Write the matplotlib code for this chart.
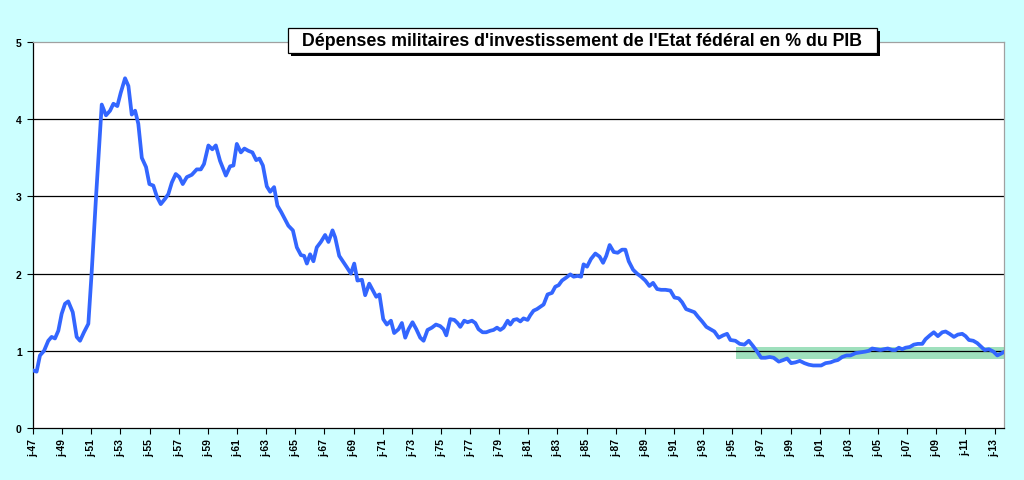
import numpy as np
import matplotlib.pyplot as plt
from matplotlib.patches import Rectangle

# (decimal year, % of GDP)
years = [
    1947.02, 1947.25, 1947.48, 1947.76, 1948.05, 1948.28, 1948.51, 1948.74, 1948.97, 1949.20,
    1949.42, 1949.73, 1950.00, 1950.23, 1950.50, 1950.80, 1951.03, 1951.33, 1951.72, 1952.01,
    1952.29, 1952.52, 1952.79, 1953.02, 1953.32, 1953.55, 1953.78, 1954.01, 1954.23, 1954.47,
    1954.76, 1954.99, 1955.26, 1955.50, 1955.77, 1956.07, 1956.29, 1956.53, 1956.80, 1957.05,
    1957.28, 1957.56, 1957.90, 1958.24, 1958.52, 1958.74, 1959.04, 1959.31, 1959.55, 1959.84,
    1960.24, 1960.53, 1960.76, 1960.99, 1961.27, 1961.51, 1961.79, 1962.06, 1962.32, 1962.54,
    1962.78, 1963.05, 1963.28, 1963.55, 1963.78, 1964.03, 1964.31, 1964.53, 1964.84, 1965.11,
    1965.39, 1965.61, 1965.80, 1966.02, 1966.25, 1966.48, 1966.76, 1967.05, 1967.28, 1967.56,
    1967.74, 1968.02, 1968.27, 1968.55, 1968.82, 1969.05, 1969.27, 1969.58, 1969.80, 1970.08,
    1970.33, 1970.56, 1970.78, 1971.04, 1971.29, 1971.57, 1971.79, 1972.09, 1972.32, 1972.55,
    1972.78, 1973.05, 1973.31, 1973.58, 1973.81, 1974.08, 1974.38, 1974.66, 1974.95, 1975.18,
    1975.37, 1975.64, 1975.92, 1976.14, 1976.33, 1976.60, 1976.83, 1977.13, 1977.36, 1977.58,
    1977.86, 1978.11, 1978.39, 1978.61, 1978.85, 1979.07, 1979.30, 1979.58, 1979.76, 1979.99,
    1980.22, 1980.45, 1980.67, 1980.95, 1981.13, 1981.36, 1981.59, 1981.82, 1982.05, 1982.32,
    1982.62, 1982.85, 1983.08, 1983.31, 1983.61, 1983.88, 1984.11, 1984.38, 1984.62, 1984.79,
    1985.03, 1985.30, 1985.60, 1985.89, 1986.13, 1986.35, 1986.58, 1986.86, 1987.13, 1987.43,
    1987.66, 1987.89, 1988.19, 1988.46, 1988.74, 1989.03, 1989.31, 1989.56, 1989.84, 1990.11,
    1990.41, 1990.75, 1991.03, 1991.32, 1991.55, 1991.83, 1992.12, 1992.40, 1992.65, 1992.93,
    1993.22, 1993.50, 1993.77, 1994.07, 1994.37, 1994.64, 1994.87, 1995.21, 1995.51, 1995.83,
    1996.13, 1996.43, 1996.70, 1996.98, 1997.27, 1997.57, 1997.84, 1998.19, 1998.49, 1998.76,
    1999.04, 1999.33, 1999.63, 1999.95, 2000.25, 2000.55, 2000.82, 2001.10, 2001.40, 2001.74,
    2002.01, 2002.24, 2002.54, 2002.84, 2003.11, 2003.46, 2003.80, 2004.14, 2004.37, 2004.60,
    2004.90, 2005.17, 2005.40, 2005.67, 2005.98, 2006.20, 2006.43, 2006.66, 2006.89, 2007.19,
    2007.46, 2007.74, 2008.04, 2008.26, 2008.56, 2008.83, 2009.11, 2009.41, 2009.64, 2009.91,
    2010.21, 2010.48, 2010.78, 2011.01, 2011.24, 2011.54, 2011.81, 2012.09, 2012.32, 2012.61,
    2012.92, 2013.19, 2013.41, 2013.60,
]
values = [
    0.745, 0.73, 0.94, 1.00, 1.13, 1.18, 1.16, 1.26, 1.48, 1.61,
    1.64, 1.50, 1.18, 1.13, 1.24, 1.35, 2.02, 3.00, 4.19, 4.05,
    4.11, 4.20, 4.17, 4.34, 4.53, 4.43, 4.06, 4.11, 3.94, 3.50,
    3.38, 3.16, 3.14, 3.00, 2.90, 2.97, 3.03, 3.18, 3.29, 3.25,
    3.16, 3.25, 3.28, 3.35, 3.35, 3.42, 3.66, 3.61, 3.66, 3.46,
    3.27, 3.39, 3.40, 3.68, 3.57, 3.62, 3.59, 3.57, 3.47, 3.49,
    3.40, 3.13, 3.06, 3.12, 2.88, 2.80, 2.70, 2.62, 2.56, 2.34,
    2.24, 2.23, 2.13, 2.25, 2.16, 2.34, 2.41, 2.50, 2.41, 2.56,
    2.47, 2.23, 2.16, 2.08, 2.00, 2.13, 1.91, 1.92, 1.72, 1.87,
    1.78, 1.70, 1.73, 1.41, 1.34, 1.39, 1.23, 1.28, 1.36, 1.17,
    1.28, 1.37, 1.28, 1.17, 1.13, 1.27, 1.30, 1.34, 1.32, 1.28,
    1.20, 1.41, 1.40, 1.36, 1.31, 1.39, 1.37, 1.39, 1.36, 1.28,
    1.24, 1.24, 1.26, 1.27, 1.30, 1.27, 1.30, 1.39, 1.34, 1.40,
    1.41, 1.38, 1.42, 1.40, 1.46, 1.52, 1.54, 1.57, 1.60, 1.73,
    1.75, 1.83, 1.85, 1.91, 1.95, 1.99, 1.96, 1.97, 1.96, 2.12,
    2.09, 2.19, 2.26, 2.22, 2.14, 2.23, 2.37, 2.28, 2.27, 2.31,
    2.31, 2.16, 2.05, 2.00, 1.96, 1.91, 1.84, 1.88, 1.80, 1.79,
    1.79, 1.78, 1.69, 1.68, 1.63, 1.54, 1.52, 1.50, 1.44, 1.38,
    1.31, 1.28, 1.25, 1.17, 1.20, 1.22, 1.14, 1.13, 1.09, 1.08,
    1.13, 1.06, 0.99, 0.91, 0.91, 0.92, 0.91, 0.86, 0.88, 0.90,
    0.84, 0.85, 0.87, 0.84, 0.82, 0.81, 0.81, 0.81, 0.84, 0.85,
    0.87, 0.88, 0.92, 0.94, 0.94, 0.97, 0.98, 0.99, 1.00, 1.03,
    1.02, 1.01, 1.02, 1.03, 1.01, 1.01, 1.04, 1.02, 1.04, 1.05,
    1.08, 1.09, 1.09, 1.15, 1.20, 1.24, 1.19, 1.24, 1.25, 1.22,
    1.18, 1.21, 1.22, 1.19, 1.14, 1.13, 1.10, 1.05, 1.01, 1.02,
    0.99, 0.94, 0.96, 0.98,
]

# Green band (1995 onwards)
band_start = 1995.25
band_low = 0.90
band_high = 1.05

tick_years = list(range(1947, 2014, 2))
tick_labels = [f"j-{y % 100:02d}" for y in tick_years]

title = "Dépenses militaires d'investissement de l'Etat fédéral en % du PIB"

plt.rcParams['font.family'] = ['Liberation Sans', 'DejaVu Sans']

fig = plt.figure(figsize=(10.24, 4.81), dpi=100, facecolor='#ccffff')
ax = fig.add_axes([0.0322, 0.1081, 0.9483, 0.8025])
ax.set_facecolor('white')

x_end = 2013.65
ax.axhspan(band_low, band_high, xmin=(band_start - 1947) / (x_end - 1947), xmax=1,
           color='#9fe0bd', lw=0, zorder=1)

for g in [1, 2, 3, 4]:
    ax.axhline(g, color='black', lw=0.9, zorder=2)

ax.plot(years, values, color='#3366ff', lw=2.7, solid_joinstyle='round', zorder=3)

ax.set_xlim(1947, x_end)
ax.set_ylim(0, 5)
ax.set_yticks([0, 1, 2, 3, 4, 5])
ax.set_yticklabels(['0', '1', '2', '3', '4', '5'], fontsize=7.5, fontweight='bold')
ax.set_xticks(tick_years)
ax.set_xticklabels(tick_labels, rotation=90, fontsize=7.5, fontweight='bold')
ax.tick_params(axis='y', length=4, width=0.8, pad=4, direction='out')
ax.tick_params(axis='x', length=4, width=0.8, pad=3, direction='out')

ax.spines['left'].set_color('black')
ax.spines['bottom'].set_color('black')
ax.spines['top'].set_color('#a0a0a0')
ax.spines['right'].set_color('#a0a0a0')
for s in ax.spines.values():
    s.set_linewidth(0.9)

# Title box with shadow
W, H = 1024, 481
bx, by, bw, bh = 288, 29, 589, 25
fig.patches.append(Rectangle(((bx + 3) / W, 1 - (by + bh + 3) / H), bw / W, bh / H,
                             transform=fig.transFigure, facecolor='black', edgecolor='none',
                             zorder=5))
fig.patches.append(Rectangle((bx / W, 1 - (by + bh) / H), bw / W, bh / H,
                             transform=fig.transFigure, facecolor='white', edgecolor='black',
                             lw=0.9, zorder=6))
fig.text((bx + bw / 2) / W, 1 - (by + bh / 2) / H, title, ha='center', va='center',
         fontsize=12.8, fontweight='bold', zorder=7)

fig.savefig('out.png', dpi=100, facecolor=fig.get_facecolor())
